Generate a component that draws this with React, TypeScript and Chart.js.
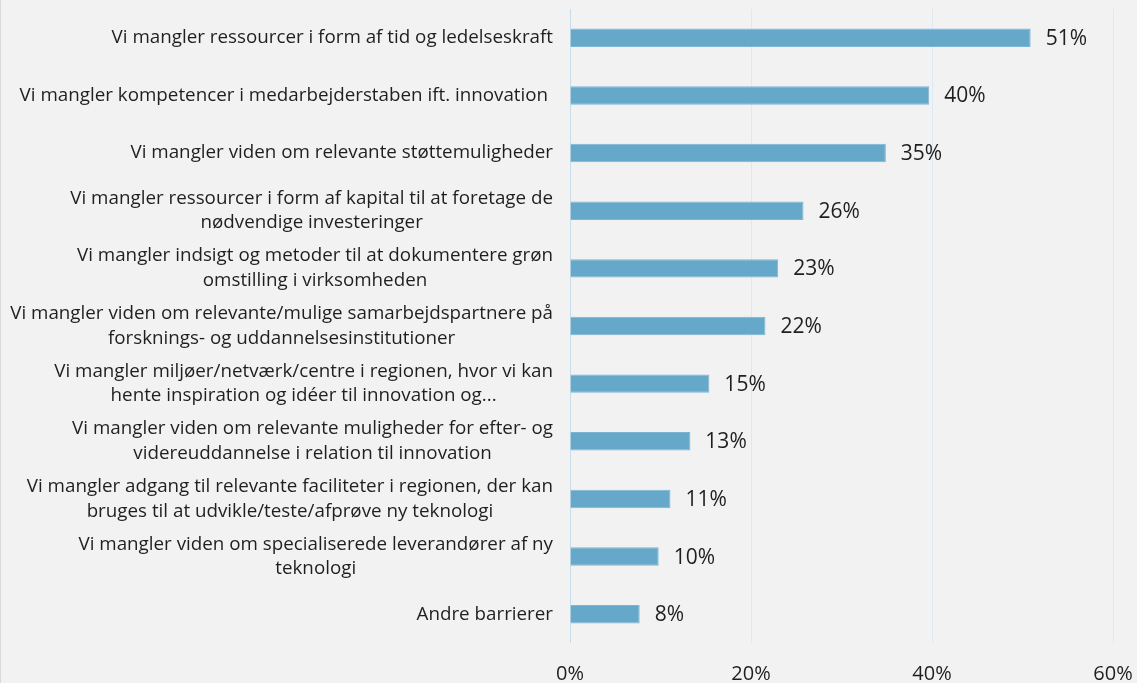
import React, { useEffect, useRef } from 'react';
import { Chart, registerables } from 'chart.js';

Chart.register(...registerables);

const categories: string[][] = [
  ['Vi mangler ressourcer i form af tid og ledelseskraft'],
  ['Vi mangler kompetencer i medarbejderstaben ift. innovation '],
  ['Vi mangler viden om relevante støttemuligheder'],
  ['Vi mangler ressourcer i form af kapital til at foretage de', 'nødvendige investeringer'],
  ['Vi mangler indsigt og metoder til at dokumentere grøn', 'omstilling i virksomheden'],
  ['Vi mangler viden om relevante/mulige samarbejdspartnere på', 'forsknings- og uddannelsesinstitutioner'],
  ['Vi mangler miljøer/netværk/centre i regionen, hvor vi kan', 'hente inspiration og idéer til innovation og...'],
  ['Vi mangler viden om relevante muligheder for efter- og', 'videreuddannelse i relation til innovation'],
  ['Vi mangler adgang til relevante faciliteter i regionen, der kan', 'bruges til at udvikle/teste/afprøve ny teknologi'],
  ['Vi mangler viden om specialiserede leverandører af ny', 'teknologi'],
  ['Andre barrierer'],
];

const values: number[] = [50.9, 39.7, 34.9, 25.8, 23.0, 21.6, 15.4, 13.3, 11.1, 9.8, 7.7];

const xMin = 0;
const xMax = 60;
const xStep = 20;

const FONT = '"Open Sans", "Noto Sans", sans-serif';
const TEXT = '#1f1f1f';
const BAR = '#66a8c9';

export default function App() {
  const ref = useRef<HTMLCanvasElement | null>(null);

  useEffect(() => {
    document.body.style.margin = '0';
    const canvas = ref.current;
    if (!canvas) return;

    const labelPlugin = {
      id: 'catLabels',
      afterDraw(chart: any) {
        const ctx = chart.ctx;
        const y = chart.scales.y;
        ctx.save();
        ctx.font = `18.8px ${FONT}`;
        ctx.fillStyle = TEXT;
        ctx.textBaseline = 'middle';
        ctx.textAlign = 'center';
        const right = chart.chartArea.left - 17;
        const lh = 24.5;
        categories.forEach((lines, i) => {
          const cy = y.getPixelForValue(i);
          const w = Math.max(...lines.map((l) => ctx.measureText(l).width));
          const cx = right - w / 2;
          const start = cy - ((lines.length - 1) * lh) / 2;
          lines.forEach((l, j) => ctx.fillText(l, cx, start + j * lh));
        });
        ctx.restore();
      },
      afterDatasetsDraw(chart: any) {
        const ctx = chart.ctx;
        const meta = chart.getDatasetMeta(0);
        ctx.save();
        ctx.font = `21px ${FONT}`;
        ctx.fillStyle = TEXT;
        ctx.textBaseline = 'middle';
        ctx.textAlign = 'left';
        meta.data.forEach((bar: any, i: number) => {
          ctx.fillText(`${Math.round(values[i])}%`, bar.x + 15, bar.y + 1);
        });
        ctx.restore();
      },
    };

    const chart = new Chart(canvas, {
      type: 'bar',
      data: {
        labels: categories.map((c) => c.join(' ')),
        datasets: [
          {
            data: values,
            backgroundColor: BAR,
            borderColor: '#7db6d2',
            borderWidth: 1,
            categoryPercentage: 1,
            barPercentage: 0.32,
          },
        ],
      },
      options: {
        indexAxis: 'y',
        responsive: false,
        animation: false,
        devicePixelRatio: 1,
        layout: { padding: { top: 9, right: 24, left: 0, bottom: 0 } },
        plugins: {
          legend: { display: false },
          tooltip: { enabled: false },
          title: { display: false },
        },
        scales: {
          x: {
            type: 'linear',
            min: xMin,
            max: xMax,
            position: 'bottom',
            afterFit: (s: any) => {
              s.height = 40;
              s.paddingRight = 0;
              s.paddingLeft = 0;
            },
            grid: {
              drawTicks: false,
              color: (c: any) => (c.tick && c.tick.value === 0 ? '#c8dde9' : '#dde9f1'),
              lineWidth: 1,
            },
            border: { display: false },
            ticks: {
              stepSize: xStep,
              padding: 19,
              color: TEXT,
              font: { family: FONT, size: 20 },
              callback: (v: any) => `${v}%`,
            },
          },
          y: {
            type: 'category',
            offset: true,
            afterFit: (s: any) => {
              s.width = 570;
            },
            grid: { display: false, drawTicks: false },
            border: { display: false },
            ticks: { display: false },
          },
        },
      },
      plugins: [labelPlugin],
    });

    return () => chart.destroy();
  }, []);

  return (
    <div
      style={{
        position: 'relative',
        width: 1137,
        height: 683,
        background: '#f2f2f2',
        boxShadow: 'inset 1px 0 0 #d9d9d9',
      }}
    >
      <canvas ref={ref} width={1137} height={683} style={{ display: 'block' }} />
    </div>
  );
}
